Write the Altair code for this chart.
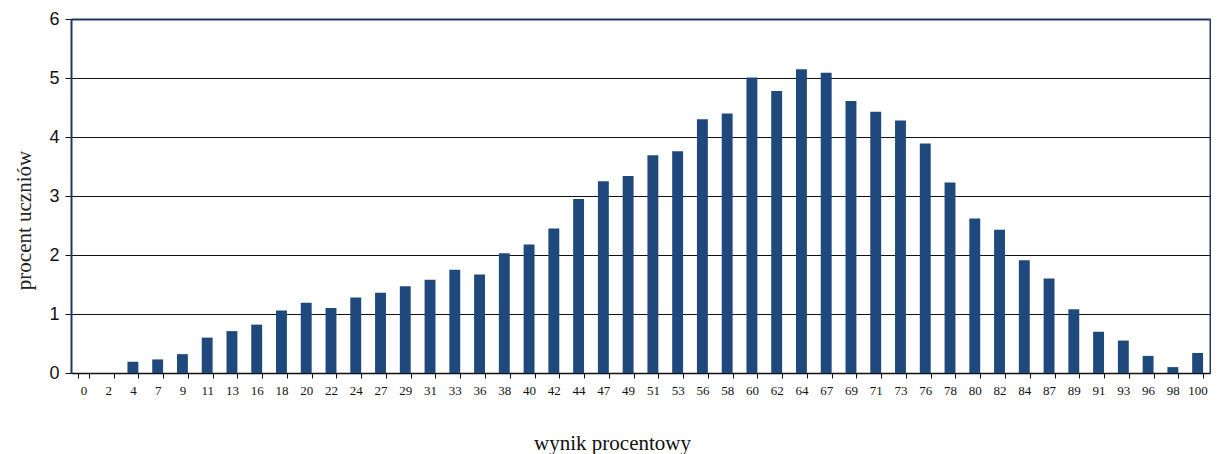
import altair as alt
import pandas as pd

scores = ["0", "2", "4", "7", "9", "11", "13", "16", "18", "20", "22", "24", "27", "29",
          "31", "33", "36", "38", "40", "42", "44", "47", "49", "51", "53", "56", "58",
          "60", "62", "64", "67", "69", "71", "73", "76", "78", "80", "82", "84", "87",
          "89", "91", "93", "96", "98", "100"]
percent = [0.0, 0.0, 0.19, 0.23, 0.32, 0.60, 0.71, 0.82, 1.06, 1.19, 1.10, 1.28, 1.36, 1.47,
           1.58, 1.75, 1.67, 2.03, 2.18, 2.45, 2.95, 3.25, 3.34, 3.69, 3.76, 4.30, 4.40,
           5.01, 4.78, 5.15, 5.09, 4.61, 4.43, 4.28, 3.89, 3.23, 2.62, 2.43, 1.91, 1.60,
           1.08, 0.70, 0.55, 0.29, 0.10, 0.34]

df = pd.DataFrame({"wynik": scores, "procent": percent})

NAVY = "#1F3864"
xscale = alt.Scale(paddingInner=0.56, paddingOuter=0.28)
yscale = alt.Scale(domain=[0, 6], nice=False)

bars = alt.Chart(df).mark_bar(color="#1F497D").encode(
    x=alt.X("wynik:N", sort=scores, scale=xscale,
            axis=alt.Axis(title="wynik procentowy", labelAngle=0, tickBand="extent",
                          labelFont="Liberation Serif", labelFontSize=13, labelColor="#111",
                          titleFont="Liberation Serif", titleFontSize=21, titleFontWeight="normal",
                          titleColor="#111", titleX=541, titleY=59,
                          domainColor="#111", domainWidth=1.5, tickColor="#111", tickSize=5,
                          labelPadding=6, grid=False)),
    y=alt.Y("procent:Q", scale=yscale,
            axis=alt.Axis(title="procent uczniów", values=[0, 1, 2, 3, 4, 5, 6], format="d",
                          labelFont="Liberation Sans", labelFontSize=18, labelColor="#111",
                          titleFont="Liberation Serif", titleFontSize=21, titleFontWeight="normal",
                          titleColor="#222", titlePadding=14, titleY=201,
                          domainColor=NAVY, domainWidth=2, tickColor="#111", tickSize=6,
                          labelPadding=6, gridColor="#111", gridWidth=1, gridOpacity=1)),
)

frame = alt.Chart(df).mark_bar(opacity=0).encode(
    x=alt.X("wynik:N", sort=scores, scale=xscale,
            axis=alt.Axis(orient="top", title=None, labels=False, ticks=False, grid=False,
                          domainColor=NAVY, domainWidth=2)),
    y=alt.Y("procent:Q", scale=yscale,
            axis=alt.Axis(orient="right", title=None, labels=False, ticks=False, grid=False,
                          domainColor=NAVY, domainWidth=2)),
)

chart = alt.layer(bars, frame).resolve_axis(x="independent", y="independent").properties(
    width=1139, height=354,
    autosize=alt.AutoSizeParams(type="none"),
    padding={"left": 63, "top": 11, "right": 1, "bottom": 81},
).configure(background="white").configure_view(stroke=None)

chart.save("out.html", embed_options={"renderer": "svg", "actions": False})
